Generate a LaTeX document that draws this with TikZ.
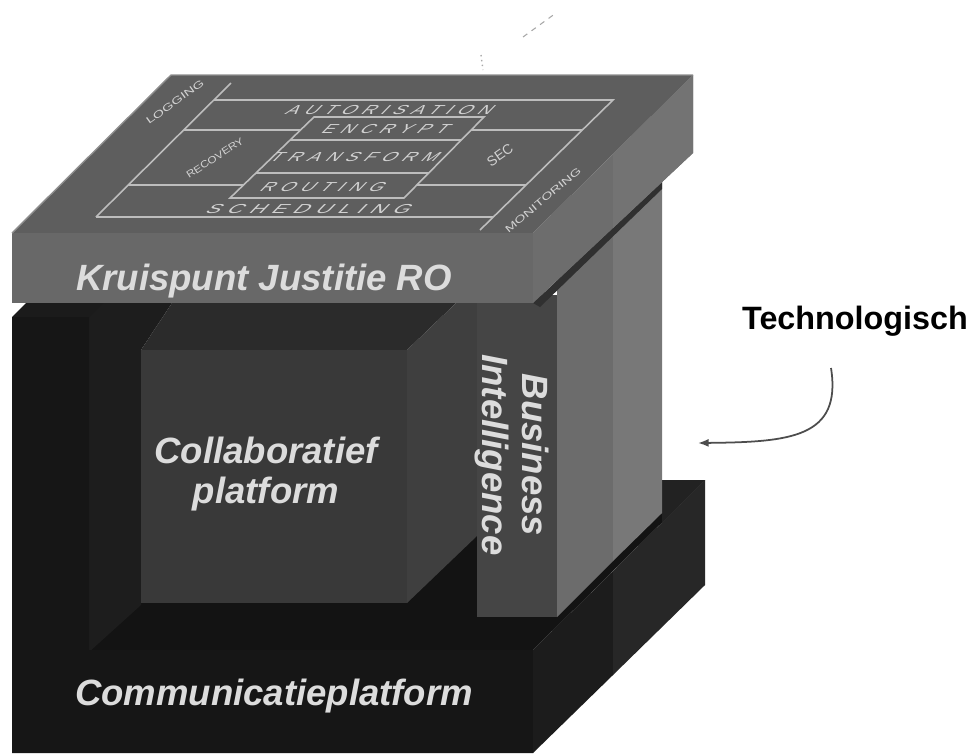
\documentclass[tikz,border=0pt]{standalone}
\usepackage{fontspec}
\setmainfont{Liberation Sans}
\newfontfamily\gridfont[LetterSpace=35]{Liberation Sans}
\usetikzlibrary{arrows.meta}

\definecolor{slabtop}{HTML}{5E5E5E}
\definecolor{slabfront}{HTML}{686868}
\definecolor{slabside}{HTML}{6D6D6D}
\definecolor{slabsidelight}{HTML}{737373}
\definecolor{edgegray}{HTML}{8E8E8E}
\definecolor{gridgray}{HTML}{BDBDBD}
\definecolor{gridtext}{HTML}{D2D2D2}
\definecolor{labelgray}{HTML}{DCDCDC}
\definecolor{basetop}{HTML}{131313}
\definecolor{basetoplight}{HTML}{222222}
\definecolor{wallinner}{HTML}{1D1D1D}
\definecolor{wallfront}{HTML}{161616}
\definecolor{walltop}{HTML}{1B1B1B}
\definecolor{cubetop}{HTML}{2B2B2B}
\definecolor{cubeside}{HTML}{3F3F3F}
\definecolor{cubefront}{HTML}{393939}
\definecolor{bifront}{HTML}{454545}
\definecolor{pillardark}{HTML}{6C6C6C}
\definecolor{pillarlight}{HTML}{787878}
\definecolor{shadowgray}{HTML}{303030}
\definecolor{baseside}{HTML}{1C1C1C}
\definecolor{basesidelight}{HTML}{272727}
\definecolor{arrowgray}{HTML}{4D4D4D}
\definecolor{specks}{HTML}{A8A8A8}

\begin{document}
\begin{tikzpicture}[x=0.02cm, y=-0.02cm,
    gridline/.style={draw=gridgray, line width=0.9pt},
    gridlabel/.style={text=gridtext, inner sep=0pt, xscale=1.4, xslant=0.7,
      font=\gridfont\fontsize{7.4}{7.4}\selectfont},
    sidelabel/.style={text=gridtext, inner sep=0pt,
      font=\fontsize{5.6}{5.6}\selectfont},
    blocklabel/.style={text=labelgray, inner sep=0pt, align=center,
      font=\fontsize{20.8}{22.7}\selectfont\bfseries\itshape}]

  % Fondo y margenes
  \fill[white] (0,0) rectangle (976,755);
  \useasboundingbox (0,0) rectangle (976,755);

  % Marcas sueltas arriba
  \draw[specks, dashed, line width=0.6pt] (523,37) -- (556,13);
  \draw[specks, dotted, line width=0.8pt] (481,55) -- (483,70);

  % Base, cara superior
  \fill[basetop] (12,650) -- (533,650) -- (705,480) -- (184,480) -- cycle;
  \fill[basetoplight] (662,480) -- (705,480) -- (662,523) -- cycle;

  % Pared izquierda, cara interior
  \fill[wallinner] (89,303) -- (172,303) -- (141,350) -- (141,605) -- (89,652) -- cycle;

  % Cubo colaborativo
  \fill[cubetop] (141,350) -- (172,303) -- (456,303) -- (407,350) -- cycle;
  \fill[cubeside] (407,350) -- (456,303) -- (478,303) -- (478,535) -- (407,603) -- cycle;
  \fill[cubefront] (141,350) rectangle (407,603);

  % Columna Business Intelligence
  \fill[bifront] (477,295) rectangle (557,617);
  \fill[pillardark] (557,280) -- (613,227) -- (613,561) -- (557,617) -- cycle;
  \fill[pillarlight] (613,227) -- (662,181) -- (662,513) -- (613,561) -- cycle;

  % Sombra bajo la losa
  \fill[shadowgray] (533,303) -- (662,182) -- (662,189) -- (540,307) -- cycle;

  % Frente de la base y pared izquierda
  \fill[wallfront] (12,317) -- (89,317) -- (89,650) -- (533,650) -- (533,753) -- (12,753) -- cycle;
  \fill[walltop] (12,317) -- (89,317) -- (103,303) -- (26,303) -- cycle;

  % Lado derecho de la base
  \fill[baseside] (533,650) -- (613,571) -- (613,675) -- (533,753) -- cycle;
  \fill[basesidelight] (613,571) -- (705,480) -- (705,585) -- (613,675) -- cycle;

  % Losa superior
  \fill[slabtop] (12,233) -- (533,233) -- (693,75) -- (171,75) -- cycle;
  \fill[slabfront] (12,233) rectangle (533,303);
  \fill[slabside] (533,233) -- (693,75) -- (693,153) -- (533,303) -- cycle;
  \fill[slabsidelight] (613,154) -- (693,75) -- (693,153) -- (613,228) -- cycle;
  \draw[edgegray, line width=0.8pt] (12,233) -- (171,75) -- (693,75);

  % Rejilla: marco exterior
  \draw[gridline] (96,217) -- (231,83);
  \draw[gridline] (214,100) -- (613,100) -- (480,230);
  \draw[gridline] (96,217) -- (493,217);
  \draw[gridline] (184,130) -- (300,130);
  \draw[gridline] (471,130) -- (582,130);
  \draw[gridline] (128,185) -- (243,185);
  \draw[gridline] (417,185) -- (526,185);

  % Rejilla: caja interior
  \draw[gridline] (230,198) -- (314,117) -- (484,117) -- (404,198) -- cycle;
  \draw[gridline] (290,140) -- (461,140);
  \draw[gridline] (256,173) -- (429,173);

  % Textos de la rejilla
  \node[gridlabel] (autor) at (391,110) {AUTORISATION};
  \node[gridlabel] (encrypt) at (387,129) {ENCRYPT};
  \node[gridlabel] (transform) at (356,157) {TRANSFORM};
  \node[gridlabel] (routing) at (324,187) {ROUTING};
  \node[gridlabel, xscale=1.15] (sched) at (310,209) {SCHEDULING};
  \node[sidelabel, rotate=36, xscale=1.5] (logging) at (175,102) {LOGGING};
  \node[sidelabel, rotate=33, xscale=1.2] (recovery) at (215,158) {RECOVERY};
  \node[sidelabel, rotate=35, scale=1.4] (sec) at (500,155) {SEC};
  \node[sidelabel, rotate=40, xscale=1.5] (monitor) at (543,200) {MONITORING};

  % Nombres de los bloques
  \node[blocklabel, anchor=base] (kruispunt) at (264,290) {Kruispunt Justitie RO};
  \node[blocklabel] (collab) at (266,474) {Collaboratief\\platform};
  \node[blocklabel, rotate=-90] (bi) at (512,455) {Business\\Intelligence};
  \node[blocklabel, anchor=base] (commu) at (274,705) {Communicatieplatform};

  % Etiqueta y flecha
  \node[inner sep=0pt, anchor=base, font=\fontsize{18.4}{20}\selectfont\bfseries] (techno) at (855,329) {Technologisch};
  \coordinate (tail) at (831,368);
  \coordinate (tip) at (698,443);
  \draw[arrowgray, line width=1pt, -{Latex[length=6pt, width=4.5pt]}]
    (tail) .. controls (842,438) and (790,442) .. (tip);

\end{tikzpicture}
\end{document}
